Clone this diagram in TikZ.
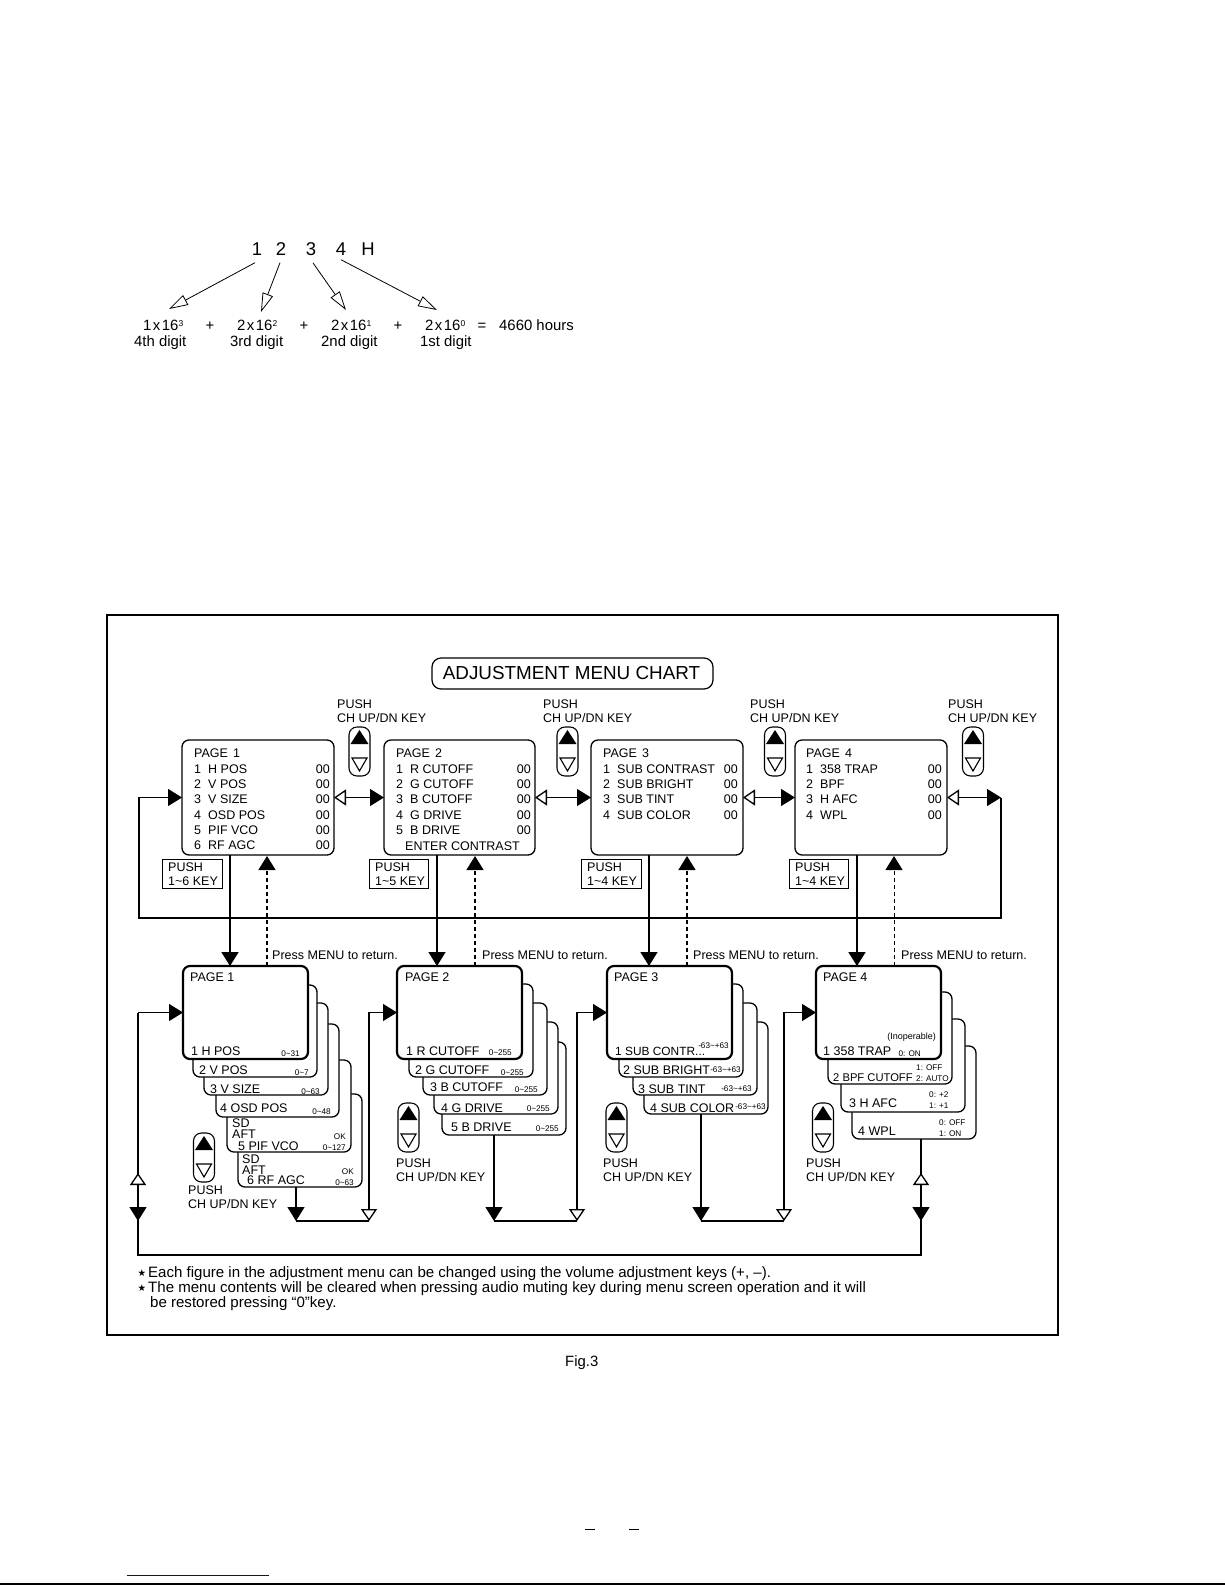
\documentclass[tikz,border=0pt]{standalone}
\usepackage{fontspec}
\setmainfont{Liberation Sans}
\newfontfamily\starfont{DejaVu Sans}
\usetikzlibrary{arrows.meta}
\newcounter{tn}
\tikzset{
  solidtip/.tip={Triangle[length=14pt,width=17pt]},
  opentip/.tip={Triangle[open,length=12pt,width=16pt,fill=white]},
  thintip/.tip={Triangle[open,length=19pt,width=11pt,fill=white]},
  txt/.style={font=\fontsize{12.5}{14}\selectfont},
  tight/.style={font=\fontsize{11.2}{14}\selectfont},
  midtxt/.style={font=\fontsize{11.9}{14}\selectfont},
  sml/.style={font=\fontsize{8.2}{9}\selectfont},
  inop/.style={font=\fontsize{9}{10}\selectfont},
  sum/.style={font=\fontsize{14.9}{16}\selectfont},
  big/.style={font=\fontsize{18.5}{20}\selectfont},
  titlefont/.style={font=\fontsize{18.85}{20}\selectfont},
  note/.style={font=\fontsize{15.05}{16}\selectfont},
  starmark/.style={font=\fontsize{9.5}{10}\starfont},
  link/.style={line width=1.3pt},
  heavylink/.style={line width=1.8pt},
  backlink/.style={line width=1.5pt,dash pattern=on 4pt off 3pt},
  thinback/.style={line width=1pt,dash pattern=on 4pt off 3pt},
  frameline/.style={line width=2pt},
  screen/.style={draw,fill=white,rounded corners=7pt,inner sep=0pt,outer sep=0pt,anchor=north west,line width=1.3pt},
  frontscreen/.style={screen,line width=2.2pt},
  hint/.style={draw,fill=white,inner sep=0pt,outer sep=0pt,anchor=north west,line width=1pt},
  keycap/.style={draw,fill=white,rounded corners=8pt,inner sep=0pt,outer sep=0pt,anchor=north west,line width=1.1pt,minimum width=21pt,minimum height=49pt},
}
% text label: [anchor]{style}{x}{y}{text}
\newcommand\lbl[5][base west]{\stepcounter{tn}\node[#2,anchor=#1,inner sep=0pt] (t\arabic{tn}) at (#3,#4) {#5};}
% box: {style}{name}{x0}{y0}{x1}{y1}
\newcommand\menubox[6]{\node[#1,minimum width={#5-#3},minimum height={#6-#4}] (#2) at (#3,#4) {};}
% up/down key: {name}{x0}{y0}
\newcommand\keypad[3]{%
  \node[keycap] (#1) at (#2,#3) {};
  \fill ([shift={(10.5pt,-3pt)}]#1.north west) -- ([shift={(19.5pt,-17pt)}]#1.north west) -- ([shift={(1.5pt,-17pt)}]#1.north west) -- cycle;
  \draw[line width=1.1pt] ([shift={(3pt,-31pt)}]#1.north west) -- ([shift={(18pt,-31pt)}]#1.north west) -- ([shift={(10.5pt,-44pt)}]#1.north west) -- cycle;
}
% two-line key caption
\newcommand\keycaption[3]{\lbl{txt}{#1}{#2}{PUSH}\lbl{txt}{#1}{#3}{CH UP/DN KEY}}
% upper page rows: {name}{x num}{x text}{x value}{items}
\newcommand\pagerows[5]{%
  \foreach \itm [count=\rowi] in {#5}{%
    \node[txt,anchor=base west,inner sep=0pt] (#1n\rowi) at (#2,{757.8+15.33*\rowi}) {\rowi};
    \node[txt,anchor=base west,inner sep=0pt] (#1m\rowi) at (#3,{757.8+15.33*\rowi}) {\itm};
    \node[txt,anchor=base east,inner sep=0pt] (#1v\rowi) at (#4,{757.8+15.33*\rowi}) {00};
  }%
}
\newcommand\pw[2]{#1\hspace{1.5pt}x\hspace{1.5pt}16\raisebox{3.5pt}{\fontsize{8.5}{9}\selectfont #2}}
\begin{document}
\begin{tikzpicture}[x=1pt,y=-1pt]
\useasboundingbox (0,0) rectangle (1225,1585);
\fill[white] (0,0) rectangle (1225,1585);

%% hour example
\node[big,anchor=base,inner sep=3pt] (d1) at (257,255.5) {1};
\node[big,anchor=base,inner sep=3pt] (d2) at (281,255.5) {2};
\node[big,anchor=base,inner sep=3pt] (d3) at (311,255.5) {3};
\node[big,anchor=base,inner sep=3pt] (d4) at (341,255.5) {4};
\node[big,anchor=base,inner sep=3pt] (dh) at (368,255.5) {H};
\coordinate (e1) at (169,309);
\coordinate (e2) at (261,312);
\coordinate (e3) at (346,310);
\coordinate (e4) at (437,310);
\draw[-thintip,line width=.8pt] ([shift={(-2pt,-4pt)}]d1.south) -- (e1);
\draw[-thintip,line width=.8pt] ([shift={(-1pt,-4pt)}]d2.south) -- (e2);
\draw[-thintip,line width=.8pt] ([shift={(2pt,-4pt)}]d3.south) -- (e3);
\draw[-thintip,line width=.8pt] ([shift={(0pt,-1pt)}]d4.south) -- (e4);
\lbl{sum}{143}{330}{\pw{1}{3}}
\lbl{sum}{237}{330}{\pw{2}{2}}
\lbl{sum}{331}{330}{\pw{2}{1}}
\lbl{sum}{425}{330}{\pw{2}{0}}
\lbl[base]{sum}{210}{330}{+}
\lbl[base]{sum}{304}{330}{+}
\lbl[base]{sum}{398}{330}{+}
\lbl[base]{sum}{482}{330}{=}
\lbl{sum}{499}{330}{4660 hours}
\lbl{sum}{134}{346}{4th digit}
\lbl{sum}{230}{346}{3rd digit}
\lbl{sum}{321}{346}{2nd digit}
\lbl{sum}{420}{346}{1st digit}

%% frame and title
\node[draw,frameline,inner sep=0pt,outer sep=0pt,anchor=north west,minimum width=951pt,minimum height=720pt] (frame) at (107,615) {};
\node[draw,line width=1.2pt,rounded corners=9pt,inner sep=0pt,outer sep=0pt,anchor=north west,minimum width=281pt,minimum height=31pt] (titlebox) at (432,658) {};
\node[titlefont,anchor=base,inner sep=0pt] (title) at (571.5,679) {ADJUSTMENT MENU CHART};

%% upper screens
\menubox{screen}{b1}{182}{740}{334}{855}
\menubox{screen}{b2}{384}{740}{535}{855}
\menubox{screen}{b3}{591}{740}{743}{855}
\menubox{screen}{b4}{795}{740}{947}{855}
\lbl{txt}{194}{757.8}{PAGE\hspace{5pt}1}
\lbl{txt}{396}{757.8}{PAGE\hspace{5pt}2}
\lbl{txt}{603}{757.8}{PAGE\hspace{5pt}3}
\lbl{txt}{806}{757.8}{PAGE\hspace{5pt}4}
\pagerows{a}{194}{208}{330}{H POS,V POS,V SIZE,OSD POS,PIF VCO,RF AGC}
\pagerows{b}{396}{410}{531}{R CUTOFF,G CUTOFF,B CUTOFF,G DRIVE,B DRIVE}
\pagerows{c}{603}{617}{738}{SUB CONTRAST,SUB BRIGHT,SUB TINT,SUB COLOR}
\pagerows{d}{806}{820}{942}{358 TRAP,BPF,H AFC,WPL}
\lbl{txt}{405}{850}{ENTER CONTRAST}

%% upper keys
\keycaption{337}{708.8}{722.5}\keypad{k1}{349}{727}
\keycaption{543}{708.8}{722.5}\keypad{k2}{557}{727}
\keycaption{750}{708.8}{722.5}\keypad{k3}{764.5}{727}
\keycaption{948}{708.8}{722.5}\keypad{k4}{962.5}{727}

%% number key hints
\menubox{hint}{h1}{162}{859}{222}{888}
\menubox{hint}{h2}{369}{859}{428}{888}
\menubox{hint}{h3}{581}{859}{641}{888}
\menubox{hint}{h4}{789}{859}{848}{888}
\lbl{txt}{168}{871.5}{PUSH}\lbl{txt}{168}{885}{1\textasciitilde 6 KEY}
\lbl{txt}{375}{871.5}{PUSH}\lbl{txt}{375}{885}{1\textasciitilde 5 KEY}
\lbl{txt}{587}{871.5}{PUSH}\lbl{txt}{587}{885}{1\textasciitilde 4 KEY}
\lbl{txt}{795}{871.5}{PUSH}\lbl{txt}{795}{885}{1\textasciitilde 4 KEY}

%% lower stacks, page 1
\menubox{screen}{p16}{238}{1094}{362}{1187}
\menubox{screen}{p15}{227}{1060}{351}{1152}
\menubox{screen}{p14}{216}{1024}{339}{1117}
\menubox{screen}{p13}{204}{1003}{328}{1095}
\menubox{screen}{p12}{193}{985}{317}{1077}
\menubox{frontscreen}{p11}{183}{966}{308}{1059}
%% page 2
\menubox{screen}{p25}{442}{1042}{566}{1135}
\menubox{screen}{p24}{434}{1022}{558}{1114}
\menubox{screen}{p23}{423}{1003}{547}{1095}
\menubox{screen}{p22}{409}{984}{533}{1077}
\menubox{frontscreen}{p21}{397}{966}{522}{1059}
%% page 3
\menubox{screen}{p34}{644}{1022}{768}{1114}
\menubox{screen}{p33}{633}{1003}{757}{1095}
\menubox{screen}{p32}{619}{984}{743}{1077}
\menubox{frontscreen}{p31}{607}{966}{732}{1059}
%% page 4
\menubox{screen}{p44}{852}{1046}{976}{1139}
\menubox{screen}{p43}{841}{1019}{965}{1112}
\menubox{screen}{p42}{828}{992}{952}{1084}
\menubox{frontscreen}{p41}{816}{966}{941}{1059}

%% lower text, page 1
\lbl{txt}{190}{981.3}{PAGE 1}
\lbl{txt}{191}{1055.5}{1 H POS}\lbl[base east]{sml}{300}{1056}{0\textasciitilde 31}
\lbl{txt}{199}{1074.5}{2 V POS}\lbl[base east]{sml}{309}{1075}{0\textasciitilde 7}
\lbl{txt}{210}{1093}{3 V SIZE}\lbl[base east]{sml}{320}{1094}{0\textasciitilde 63}
\lbl{txt}{220}{1112}{4 OSD POS}\lbl[base east]{sml}{331}{1114}{0\textasciitilde 48}
\lbl{txt}{232}{1127}{SD}\lbl{txt}{232}{1138}{AFT}\lbl[base east]{sml}{346}{1139}{OK}
\lbl{txt}{238}{1150.5}{5 PIF VCO}\lbl[base east]{sml}{346}{1150}{0\textasciitilde 127}
\lbl{txt}{242}{1163}{SD}\lbl{txt}{242}{1174.5}{AFT}\lbl[base east]{sml}{354}{1174}{OK}
\lbl{txt}{247}{1184.5}{6 RF AGC}\lbl[base east]{sml}{354}{1185}{0\textasciitilde 63}
%% page 2
\lbl{txt}{405}{981.3}{PAGE 2}
\lbl{txt}{406}{1055.5}{1 R CUTOFF}\lbl[base east]{sml}{512}{1055.5}{0\textasciitilde 255}
\lbl{txt}{415}{1074}{2 G CUTOFF}\lbl[base east]{sml}{524}{1075}{0\textasciitilde 255}
\lbl{txt}{430}{1091.5}{3 B CUTOFF}\lbl[base east]{sml}{538}{1092}{0\textasciitilde 255}
\lbl{txt}{441}{1112}{4 G DRIVE}\lbl[base east]{sml}{550}{1111}{0\textasciitilde 255}
\lbl{txt}{451}{1131.5}{5 B DRIVE}\lbl[base east]{sml}{559}{1131}{0\textasciitilde 255}
%% page 3
\lbl{txt}{614}{981.3}{PAGE 3}
\lbl{midtxt}{615}{1055.5}{1 SUB CONTR...}\lbl[base east]{sml}{729}{1048}{-63\textasciitilde +63}
\lbl{txt}{623}{1074.5}{2 SUB BRIGHT}\lbl[base east]{sml}{741}{1072}{-63\textasciitilde +63}
\lbl{txt}{638}{1093.5}{3 SUB TINT}\lbl[base east]{sml}{752}{1091}{-63\textasciitilde +63}
\lbl{txt}{650}{1112.5}{4 SUB COLOR}\lbl[base east]{sml}{766}{1109}{-63\textasciitilde +63}
%% page 4
\lbl{txt}{823}{981.3}{PAGE 4}
\lbl[base east]{inop}{936}{1039}{(Inoperable)}
\lbl{txt}{823}{1055.5}{1 358 TRAP}\lbl[base east]{sml}{921}{1056}{0: ON}
\lbl{tight}{833}{1081}{2 BPF CUTOFF}\lbl{sml}{916}{1070}{1: OFF}\lbl{sml}{916}{1081}{2: AUTO}
\lbl{txt}{849}{1107.5}{3 H AFC}\lbl{sml}{929}{1097}{0: +2}\lbl{sml}{929}{1108}{1: +1}
\lbl{txt}{858}{1135.5}{4 WPL}\lbl{sml}{939}{1125}{0: OFF}\lbl{sml}{939}{1136}{1: ON}

%% lower keys
\keypad{q1}{193.5}{1133}\keycaption{188}{1194.3}{1208.3}
\keypad{q2}{398}{1103}\keycaption{396}{1167.5}{1181}
\keypad{q3}{606}{1103}\keycaption{603}{1167.5}{1181}
\keypad{q4}{812.5}{1103}\keycaption{806}{1167.5}{1181}

%% press menu labels
\lbl{txt}{272}{959.5}{Press MENU to return.}
\lbl{txt}{482}{959.5}{Press MENU to return.}
\lbl{txt}{693}{959.5}{Press MENU to return.}
\lbl{txt}{901}{959.5}{Press MENU to return.}

%% page arrows, upper row
\draw[link,{opentip}-{solidtip}] (b1.east) -- (b2.west);
\draw[link,{opentip}-{solidtip}] (b2.east) -- (b3.west);
\draw[link,{opentip}-{solidtip}] (b3.east) -- (b4.west);
\coordinate (wrapr) at (1001,797.5);
\coordinate (wrapl) at (139,797.5);
\coordinate (wrapbr) at (1001,918);
\coordinate (wrapbl) at (139,918);
\draw[link,{opentip}-{solidtip}] (b4.east) -- (wrapr);
\draw[link,-{solidtip}] (wrapr) -- (wrapbr) -- (wrapbl) -- (wrapl) -- (b1.west);

%% down arrows
\draw[heavylink,-{solidtip}] ([xshift=48pt]b1.south west) -- ([xshift=47pt]p11.north west);
\draw[link,-{solidtip}] ([xshift=53pt]b2.south west) -- ([xshift=40pt]p21.north west);
\draw[link,-{solidtip}] ([xshift=58pt]b3.south west) -- ([xshift=42pt]p31.north west);
\draw[heavylink,-{solidtip}] ([xshift=62pt]b4.south west) -- ([xshift=41pt]p41.north west);
%% return arrows
\draw[backlink,-{solidtip}] ([xshift=84pt]p11.north west) -- ([xshift=85pt,yshift=-1pt]b1.south west);
\draw[backlink,-{solidtip}] ([xshift=78pt]p21.north west) -- ([xshift=91pt,yshift=-1pt]b2.south west);
\draw[backlink,-{solidtip}] ([xshift=80pt]p31.north west) -- ([xshift=96pt,yshift=-1pt]b3.south west);
\draw[thinback,-{solidtip}] ([xshift=78pt]p41.north west) -- ([xshift=99pt,yshift=-1pt]b4.south west);

%% lower chain
\coordinate (j1a) at (296,1221); \coordinate (j1b) at (369,1221); \coordinate (j1c) at (369,1012.5);
\coordinate (j2a) at (494,1221); \coordinate (j2b) at (577,1221); \coordinate (j2c) at (577,1012.5);
\coordinate (j3a) at (701,1221); \coordinate (j3b) at (784,1221); \coordinate (j3c) at (784,1012.5);
\draw[link,-{solidtip}] ([xshift=58pt]p16.south west) -- (j1a);
\draw[link] (j1a) -- (j1b);
\draw[link,{opentip}-{solidtip}] (j1b) -- (j1c) -- (p21.west);
\draw[link,-{solidtip}] ([xshift=52pt]p25.south west) -- (j2a);
\draw[link] (j2a) -- (j2b);
\draw[link,{opentip}-{solidtip}] (j2b) -- (j2c) -- (p31.west);
\draw[link,-{solidtip}] ([xshift=57pt]p34.south west) -- (j3a);
\draw[link] (j3a) -- (j3b);
\draw[link,{opentip}-{solidtip}] (j3b) -- (j3c) -- (p41.west);
%% return to page 1
\coordinate (r1) at (921,1255); \coordinate (r2) at (138,1255); \coordinate (r3) at (138,1012.5);
\coordinate (u1) at (921,1173); \coordinate (u2) at (921,1221);
\coordinate (v1) at (138,1173); \coordinate (v2) at (138,1221);
\draw[link] ([xshift=69pt]p44.south west) -- (r1) -- (r2) -- (r3);
\draw[link,-{solidtip}] (r3) -- (p11.west);
\draw[link,{opentip}-{solidtip}] (u1) -- (u2);
\draw[link,{opentip}-{solidtip}] (v1) -- (v2);

%% notes
\lbl{starmark}{137.5}{1276.5}{★}
\lbl{note}{148}{1277}{Each figure in the adjustment menu can be changed using the volume adjustment keys (+, –).}
\lbl{starmark}{137.5}{1291.5}{★}
\lbl{note}{148}{1292}{The menu contents will be cleared when pressing audio muting key during menu screen operation and it will}
\lbl{note}{150}{1307}{be restored pressing “0”key.}
\lbl{sum}{565}{1366}{Fig.3}

%% page remnants
\coordinate (m1) at (585,1529); \coordinate (m2) at (595,1529);
\coordinate (m3) at (629,1529); \coordinate (m4) at (639,1529);
\draw[line width=1pt] (m1) -- (m2);
\draw[line width=1pt] (m3) -- (m4);
\coordinate (bl1) at (127,1575); \coordinate (bl2) at (269,1575);
\draw[blue!80!black,line width=1pt] (bl1) -- (bl2);
\coordinate (bk1) at (0,1584); \coordinate (bk2) at (1225,1584);
\draw[line width=1.2pt] (bk1) -- (bk2);
\end{tikzpicture}
\end{document}
